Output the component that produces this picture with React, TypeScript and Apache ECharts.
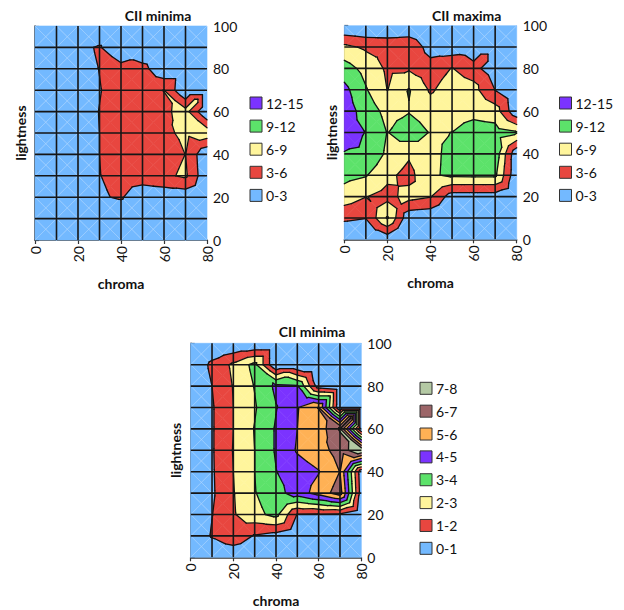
import React, { useEffect, useRef } from "react";
import * as echarts from "echarts";

// grid nodes
const chromaValues = [0, 10, 20, 30, 40, 50, 60, 70, 80];
const lightnessValues = [0, 10, 20, 30, 40, 50, 60, 70, 80, 90, 100];

// CII minima, rows = lightness 0..100, columns = chroma 0..80 (null = no sample)
const minimaRows: (number | null)[][] = [
  [0, 0, 0, 0, 0, null, null, null, null],
  [0, 1.1, 1.8, 0.9, 0.6, null, null, null, null],
  [0, 0.97, 1.9, 2.7, 3.3, 0.95, 0.9, 0.85, null],
  [0, 0.85, 1.95, 2.95, 3.6, 4.5, 5.4, 6.5, 0.5],
  [0, 0.88, 2.0, 3.0, 3.97, 4.5, 4.95, 6.02, 0.3],
  [0, 0.9, 2.05, 3.0, 4.1, 5.1, 5.6, 6.4, 7.9],
  [0, 0.9, 2.0, 3.05, 4.1, 5.0, 5.4, 7.1, null],
  [0, 0.9, 2.0, 2.9, 3.95, 4.95, 6.05, null, null],
  [0, 1.0, 2.05, 3.05, 4.2, 4.1, 0.45, null, null],
  [0, 1.25, 2.2, 3.3, null, 0, null, null, null],
  [0, 0, 0, 0, null, null, null, null, null],
];

// CII maxima
const maximaRows: (number | null)[][] = [
  [0, 0, 1.1, 0, null, null, null, null, null],
  [3.57, 3.1, 9.3, 0.8, 0.5, 0.3, null, null, null],
  [7.69, 6.1, 5.0, 7.1, 6.2, 1.5, 1.5, 1.5, null],
  [9.87, 9.2, 6.75, 5.0, 8.6, 9.5, 9.6, 9.6, 0.5],
  [11.9, 11.8, 8.4, 6.45, 8.5, 9.5, 10.5, 11.0, 0.5],
  [12.8, 11.95, 8.9, 10.8, 8.8, 9.02, 10.2, 10.2, 9.3],
  [13.5, 10.8, 8.0, 8.8, 7.5, 8.0, 8.2, 7.5, 0.5],
  [12.9, 9.25, 5.95, 9.2, 5.6, 7.5, 7.0, 2.9, null],
  [10.35, 8.0, 5.5, 5.6, 4.5, 6.1, 4.5, null, null],
  [6.8, 5.5, 5.2, 5.7, 1.5, 1.0, null, null, null],
  [0, 0, 0, 0, 0, null, null, null, null],
];

const levels3 = [0, 3, 6, 9, 12, 15];
const names3 = ["0-3", "3-6", "6-9", "9-12", "12-15"];
const levels1 = [0, 1, 2, 3, 4, 5, 6, 7, 8];
const names1 = ["0-1", "1-2", "2-3", "3-4", "4-5", "5-6", "6-7", "7-8"];

const xTicks = [0, 20, 40, 60, 80];
const yTicks = [0, 20, 40, 60, 80, 100];

const COLORS = ["#73B9FF", "#E8463F", "#FFF59C", "#5CE26A", "#7B33FF", "#FFB155", "#9C6568", "#B4C9A4"];
const FONT = "Lato, 'DejaVu Sans', sans-serif";

type P = [number, number, number];

function clip(poly: P[], level: number, keepAbove: boolean): P[] {
  const out: P[] = [];
  const n = poly.length;
  for (let i = 0; i < n; i++) {
    const a = poly[i];
    const b = poly[(i + 1) % n];
    const ina = keepAbove ? a[2] >= level : a[2] <= level;
    const inb = keepAbove ? b[2] >= level : b[2] <= level;
    if (ina) out.push(a);
    if (ina !== inb) {
      const t = (level - a[2]) / (b[2] - a[2]);
      out.push([a[0] + t * (b[0] - a[0]), a[1] + t * (b[1] - a[1]), level]);
    }
  }
  return out;
}

function cellNodes(rows: (number | null)[][], i: number, j: number) {
  const x0 = chromaValues[i], x1 = chromaValues[i + 1];
  const y0 = lightnessValues[j], y1 = lightnessValues[j + 1];
  const raw = [rows[j][i], rows[j][i + 1], rows[j + 1][i + 1], rows[j + 1][i]];
  const v = raw.map((r) => (r == null ? 0 : r));
  const present = raw.filter((r) => r != null) as number[];
  const mz = present.length ? present.reduce((s, q) => s + q, 0) / present.length : 0;
  const corners: P[] = [
    [x0, y0, v[0]],
    [x1, y0, v[1]],
    [x1, y1, v[2]],
    [x0, y1, v[3]],
  ];
  const m: P = [(x0 + x1) / 2, (y0 + y1) / 2, mz];
  return { corners, m };
}

function contourData(rows: (number | null)[][], levels: number[]) {
  const nb = levels.length - 1;
  const polys: { band: number; pts: [number, number][] }[] = [];
  const lines: [number, number, number, number][] = [];
  const diags: [number, number, number, number][] = [];
  const L1 = levels[1];
  for (let j = 0; j < lightnessValues.length - 1; j++) {
    for (let i = 0; i < chromaValues.length - 1; i++) {
      const { corners, m } = cellNodes(rows, i, j);
      // half-diagonals inside the lowest band
      corners.forEach((a) => {
        const ina = a[2] < L1, inm = m[2] < L1;
        if (ina && inm) diags.push([a[0], a[1], m[0], m[1]]);
        else if (ina !== inm) {
          const t = (L1 - a[2]) / (m[2] - a[2]);
          const px = a[0] + t * (m[0] - a[0]), py = a[1] + t * (m[1] - a[1]);
          if (ina) diags.push([a[0], a[1], px, py]);
          else diags.push([px, py, m[0], m[1]]);
        }
      });
      for (let e = 0; e < 4; e++) {
        const tri: P[] = [corners[e], corners[(e + 1) % 4], m];
        for (let k = 0; k < nb; k++) {
          let poly: P[] = tri;
          if (k > 0) poly = clip(poly, levels[k], true);
          if (poly.length >= 3 && k < nb - 1) poly = clip(poly, levels[k + 1], false);
          if (poly.length >= 3) polys.push({ band: k, pts: poly.map((p) => [p[0], p[1]] as [number, number]) });
        }
        for (let k = 1; k < nb; k++) {
          const L = levels[k];
          const pts: [number, number][] = [];
          for (let s = 0; s < 3; s++) {
            const a = tri[s], b = tri[(s + 1) % 3];
            const aa = a[2] >= L, bb = b[2] >= L;
            if (aa !== bb) {
              const t = (L - a[2]) / (b[2] - a[2]);
              pts.push([a[0] + t * (b[0] - a[0]), a[1] + t * (b[1] - a[1])]);
            }
          }
          if (pts.length === 2) lines.push([pts[0][0], pts[0][1], pts[1][0], pts[1][1]]);
        }
      }
    }
  }
  return { polys, lines, diags };
}

function makeRenderer(rows: (number | null)[][], levels: number[]) {
  const data = contourData(rows, levels);
  return (_params: any, api: any) => {
    const children: any[] = [];
    data.polys.forEach((p) => {
      const col = COLORS[p.band];
      children.push({
        type: "polygon",
        silent: true,
        shape: { points: p.pts.map((q) => api.coord(q)) },
        style: { fill: col, stroke: col, lineWidth: 0.6 },
      });
    });
    data.diags.forEach((l) => {
      const a = api.coord([l[0], l[1]]);
      const b = api.coord([l[2], l[3]]);
      children.push({
        type: "line",
        silent: true,
        shape: { x1: a[0], y1: a[1], x2: b[0], y2: b[1] },
        style: { stroke: "rgba(255,255,255,0.3)", lineWidth: 0.8 },
      });
    });
    data.lines.forEach((l) => {
      const a = api.coord([l[0], l[1]]);
      const b = api.coord([l[2], l[3]]);
      children.push({
        type: "line",
        silent: true,
        shape: { x1: a[0], y1: a[1], x2: b[0], y2: b[1] },
        style: { stroke: "#111", lineWidth: 1.3, lineCap: "round" },
      });
    });
    // grid lines
    chromaValues.slice(1, -1).forEach((x) => {
      const a = api.coord([x, 0]);
      const b = api.coord([x, 100]);
      children.push({ type: "line", silent: true, shape: { x1: a[0], y1: a[1], x2: b[0], y2: b[1] }, style: { stroke: "#161616", lineWidth: 1.6 } });
    });
    lightnessValues.slice(1, -1).forEach((y) => {
      const a = api.coord([0, y]);
      const b = api.coord([80, y]);
      children.push({ type: "line", silent: true, shape: { x1: a[0], y1: a[1], x2: b[0], y2: b[1] }, style: { stroke: "#161616", lineWidth: 1.6 } });
    });
    return { type: "group", children };
  };
}

const panels = [
  { title: "CII minima", rows: minimaRows, levels: levels3, names: names3, grid: { left: 35, top: 26, width: 172, height: 214 }, titleX: 158, titleY: 15, lightX: 20, legendX: 250, legendY: 103, legendStep: 23.1 },
  { title: "CII maxima", rows: maximaRows, levels: levels3, names: names3, grid: { left: 344.3, top: 25.7, width: 172.4, height: 213.6 }, titleX: 466.7, titleY: 15, lightX: 331, legendX: 559.5, legendY: 103, legendStep: 23.1 },
  { title: "CII minima", rows: minimaRows, levels: levels1, names: names1, grid: { left: 190.7, top: 343.3, width: 170.6, height: 214 }, titleX: 312, titleY: 331.5, lightX: 175, legendX: 420, legendY: 388.3, legendStep: 22.86 },
];

export default function App() {
  const ref = useRef<HTMLDivElement>(null);
  useEffect(() => {
    if (!ref.current) return;
    const chart = echarts.init(ref.current, undefined, { renderer: "svg" });
    const graphics: any[] = [];
    panels.forEach((p) => {
      graphics.push({
        type: "text",
        x: p.titleX,
        y: p.titleY,
        style: { text: p.title, fontFamily: FONT, fontSize: 14, fontWeight: "bold", fill: "#111", align: "center", verticalAlign: "middle" },
      });
      graphics.push({
        type: "text",
        x: p.lightX,
        y: p.grid.top + p.grid.height / 2,
        rotation: Math.PI / 2,
        style: { text: "lightness", fontFamily: FONT, fontSize: 14, fontWeight: "bold", fill: "#111", align: "center", verticalAlign: "middle" },
      });
      const n = p.names.length;
      for (let i = 0; i < n; i++) {
        const band = n - 1 - i;
        const cy = p.legendY + i * p.legendStep;
        graphics.push({
          type: "rect",
          shape: { x: p.legendX, y: cy - 6, width: 12, height: 12 },
          style: { fill: COLORS[band], stroke: "#333", lineWidth: 1 },
        });
        graphics.push({
          type: "text",
          x: p.legendX + 16,
          y: cy,
          style: { text: p.names[band], fontFamily: FONT, fontSize: 14, fill: "#111", align: "left", verticalAlign: "middle" },
        });
      }
    });
    const option: any = {
      animation: false,
      backgroundColor: "#ffffff",
      grid: panels.map((p) => ({ ...p.grid, containLabel: false })),
      xAxis: panels.map((_p, i) => ({
        type: "value",
        gridIndex: i,
        min: 0,
        max: 80,
        interval: 20,
        name: "chroma",
        nameLocation: "middle",
        nameGap: 36,
        nameTextStyle: { fontFamily: FONT, fontSize: 14, fontWeight: "bold", color: "#111" },
        axisLine: { show: true, lineStyle: { color: "#333", width: 1.5 } },
        axisTick: { show: true, length: 4, lineStyle: { color: "#333", width: 1.2 }, customValues: xTicks },
        axisLabel: { rotate: 90, fontFamily: FONT, fontSize: 14, color: "#111", margin: 6, customValues: xTicks },
        splitLine: { show: false },
      })),
      yAxis: panels.map((_p, i) => ({
        type: "value",
        gridIndex: i,
        min: 0,
        max: 100,
        interval: 20,
        position: "right",
        axisLine: { show: true, lineStyle: { color: "#333", width: 1.5 } },
        axisTick: { show: true, length: 4, lineStyle: { color: "#333", width: 1.2 }, customValues: yTicks },
        axisLabel: { fontFamily: FONT, fontSize: 14, color: "#111", margin: 6, customValues: yTicks },
        splitLine: { show: false },
      })),
      series: panels.map((p, i) => ({
        type: "custom",
        xAxisIndex: i,
        yAxisIndex: i,
        silent: true,
        clip: false,
        z: 1,
        data: [[0, 0]],
        renderItem: makeRenderer(p.rows, p.levels),
      })),
      graphic: graphics,
    };
    chart.setOption(option);
    return () => chart.dispose();
  }, []);
  return <div ref={ref} style={{ position: "fixed", left: 0, top: 0, width: 624, height: 610, background: "#fff" }} />;
}
